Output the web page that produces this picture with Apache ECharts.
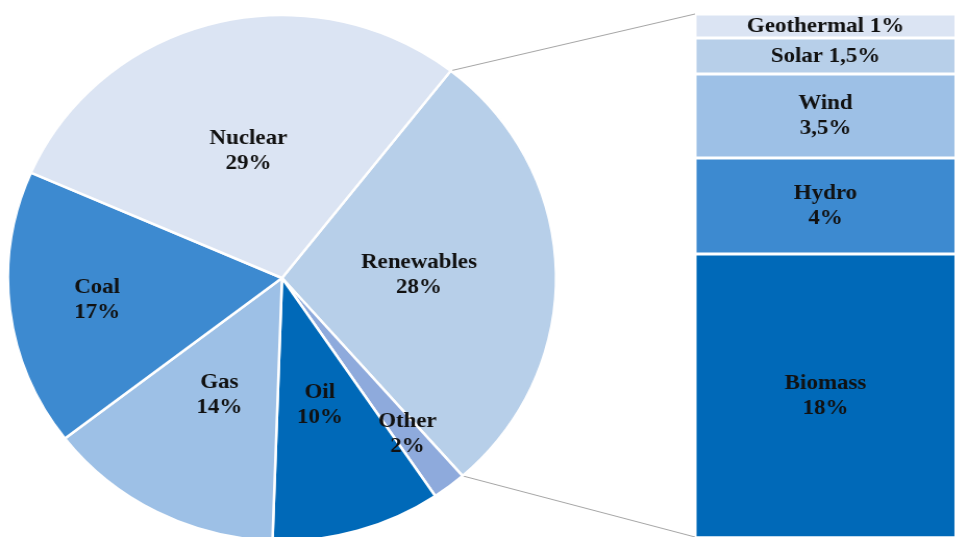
<!DOCTYPE html>
<html>
<head>
<meta charset="utf-8">
<script src="https://cdn.jsdelivr.net/npm/echarts@6/dist/echarts.min.js"></script>
<style>
  html, body { margin: 0; padding: 0; background: #fff; overflow: hidden; }
  #chart { position: absolute; left: 0; top: 0; height: 537px; transform-origin: 0 0; }
</style>
</head>
<body>
<div id="chart"></div>
<script>
// Energy mix (pie) and the breakdown of renewables (stacked bar)
const pieNames = ['Renewables', 'Other', 'Oil', 'Gas', 'Coal', 'Nuclear'];
const pieValues = [28, 2, 10, 14, 17, 29];
const renewNames = ['Geothermal', 'Solar', 'Wind', 'Hydro', 'Biomass'];
const renewValues = [1, 1.5, 3.5, 4, 18];

// Layout and styling
const PAGE_W = 956, PAGE_H = 537;
const STRETCH = 1.042;               // the drawing is slightly wider than tall
const W = PAGE_W / STRETCH;
const CX = 282 / STRETCH, CY = 278, R = 263;
const START = 52;                    // start angle of the first slice
const BAR_LEFT = 695 / STRETCH;
const BAR_RIGHT_OVERFLOW = 7 / STRETCH;
const BAR_TOP = 14;
const PX_PER_UNIT = 24;
const BAR_VISIBLE_MAX = (PAGE_H - BAR_TOP) / PX_PER_UNIT;

const pieColors = {
  Nuclear: '#dbe4f3', Renewables: '#b7cfe9', Coal: '#3d8ad0',
  Gas: '#9dc0e6', Oil: '#0069b8', Other: '#8eaadc'
};
const barColors = {
  Geothermal: '#dbe4f3', Solar: '#b7cfe9', Wind: '#9dc0e6',
  Hydro: '#3d8ad0', Biomass: '#0069b8'
};
// label distance from the centre, as a fraction of the radius
const labelRadius = { Coal: 0.68, Other: 0.75 };
const oneLineLabels = { Geothermal: true, Solar: true };

const FONT = "'Liberation Serif', 'Times New Roman', serif";
const fmt = v => String(v).replace('.', ',') + '%';

const el = document.getElementById('chart');
el.style.width = W + 'px';
el.style.transform = 'scaleX(' + STRETCH + ')';
const chart = echarts.init(el, null, { renderer: 'canvas', width: W, height: PAGE_H });

const pieTotal = pieValues.reduce((a, b) => a + b, 0);
function boundaryAngle(k) {          // angle (deg) after the first k slices
  let acc = 0;
  for (let i = 0; i < k; i++) acc += pieValues[i];
  return START - acc / pieTotal * 360;
}
function midAngle(i) {
  return (boundaryAngle(i) + boundaryAngle(i + 1)) / 2;
}
function piePoint(deg, f) {
  const a = deg * Math.PI / 180;
  return [CX + f * R * Math.cos(a), CY - f * R * Math.sin(a)];
}

const textStyle = {
  color: '#111', fontFamily: FONT, fontWeight: 'bold', fontSize: 22, lineHeight: 25
};

const barSeries = renewNames.map((n, i) => ({
  type: 'bar',
  name: n,
  stack: 'renew',
  xAxisIndex: 0, yAxisIndex: 0,
  barWidth: '100%',
  data: [renewValues[i]],
  itemStyle: { color: barColors[n], borderColor: '#fff', borderWidth: 1.5 },
  label: Object.assign({
    show: true,
    position: 'inside',
    formatter: () => n + (oneLineLabels[n] ? ' ' : '\n') + fmt(renewValues[i])
  }, textStyle),
  emphasis: { disabled: true },
  silent: true
}));

// connector lines from the renewables slice to the bar
const pTop = piePoint(boundaryAngle(0), 1);
const pBot = piePoint(boundaryAngle(1), 1);

chart.setOption({
  animation: false,
  backgroundColor: '#fff',
  grid: { left: BAR_LEFT, right: -BAR_RIGHT_OVERFLOW, top: BAR_TOP, bottom: 0 },
  xAxis: { type: 'category', data: ['Renewables'], show: false },
  yAxis: { type: 'value', inverse: true, min: 0, max: BAR_VISIBLE_MAX, show: false },
  graphic: [
    { type: 'line', z: 1, shape: { x1: pTop[0], y1: pTop[1], x2: BAR_LEFT, y2: BAR_TOP },
      style: { stroke: '#a6a6a6', lineWidth: 1 } },
    { type: 'line', z: 1, shape: { x1: pBot[0], y1: pBot[1], x2: BAR_LEFT, y2: PAGE_H },
      style: { stroke: '#a6a6a6', lineWidth: 1 } }
  ],
  series: [{
    type: 'pie',
    center: [CX, CY],
    radius: R,
    startAngle: START,
    clockwise: true,
    avoidLabelOverlap: false,
    silent: true,
    emphasis: { disabled: true },
    data: pieNames.map((n, i) => ({
      name: n, value: pieValues[i], itemStyle: { color: pieColors[n] }
    })),
    itemStyle: { borderColor: '#fff', borderWidth: 2.5 },
    label: Object.assign({
      show: true,
      position: 'inside',
      formatter: p => p.name + '\n' + fmt(p.value)
    }, textStyle),
    labelLine: { show: false },
    labelLayout: p => {
      const n = pieNames[p.dataIndex];
      const pt = piePoint(midAngle(p.dataIndex), labelRadius[n] || 0.5);
      return { x: pt[0], y: pt[1], align: 'center', verticalAlign: 'middle' };
    }
  }].concat(barSeries)
});
</script>
</body>
</html>
